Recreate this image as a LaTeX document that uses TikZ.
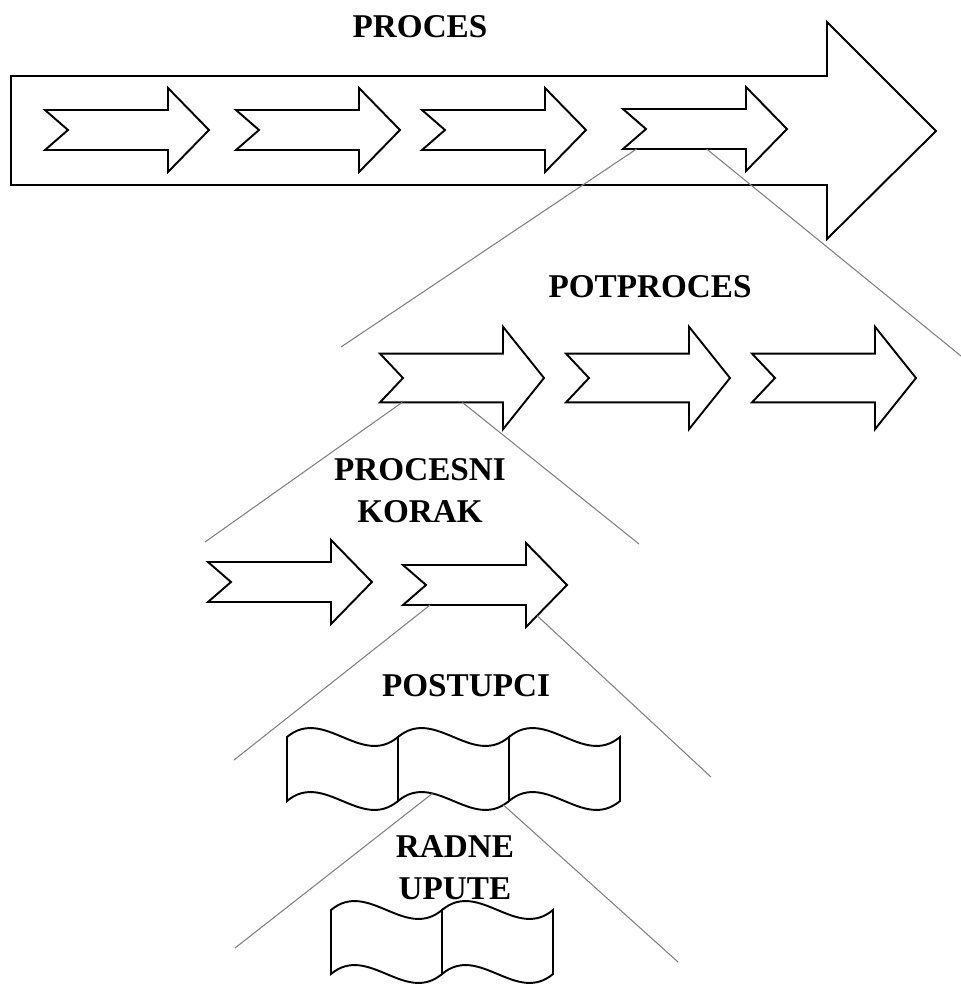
\documentclass[tikz,border=0pt]{standalone}
\usepackage{fontspec}
\setmainfont{Liberation Serif}
\usetikzlibrary{calc,positioning}

\tikzset{
  outline/.style={draw=black, line width=1.1pt, fill=white, line join=miter},
  zoomline/.style={draw=black!50, line width=0.6pt},
  levellabel/.style={font=\fontsize{18.9}{23.8}\selectfont\bfseries, inner sep=0pt, align=center},
  stepArrow/.pic={
    \path[outline] (0,-20) -- (123,-20) -- (123,-42) -- (164,0) -- (123,42)
      -- (123,20) -- (0,20) -- (23,0) -- cycle;
    \coordinate (-bl) at (0,20);
    \coordinate (-br) at (123,20);
    \coordinate (-hb) at (123,42);
    \coordinate (-tip) at (164,0);
  },
  tapePanel/.pic={
    \path[outline] (0,0) .. controls (37,-31) and (74,31) .. (111,0)
      -- (111,64) .. controls (74,95) and (37,33) .. (0,64) -- cycle;
    \path (0,64) .. controls (37,33) and (74,95) .. (111,64)
      coordinate[pos=0.31] (-ml) coordinate[pos=0.95] (-mr);
  }
}

\begin{document}
\begin{tikzpicture}[x=0.02cm, y=-0.02cm]
\useasboundingbox[fill=white] (0,0) rectangle (961,985);

% proces
\node[levellabel] (proces) at (420,27) {PROCES};
\path[outline] (11,76) -- (827,76) -- (827,22) -- (936,131) -- (827,239)
  -- (827,185) -- (11,185) -- cycle;
\pic (a1) at (45,130) {stepArrow};
\pic (a2) at (236,130) {stepArrow};
\pic (a3) at (422,130) {stepArrow};
\pic (a4) at (623,129) {stepArrow};

% potproces
\node[levellabel] (potproces) at (650,287) {POTPROCES};
\pic[yscale=1.22] (b1) at (380,378) {stepArrow};
\pic[yscale=1.22] (b2) at (566,378) {stepArrow};
\pic[yscale=1.22] (b3) at (752,378) {stepArrow};

% procesni korak
\node[levellabel] (korak) at (420,491) {PROCESNI\\KORAK};
\pic (c1) at (208,582) {stepArrow};
\pic (c2) at (403,585) {stepArrow};

% postupci
\node[levellabel] (postupci) at (466,686) {POSTUPCI};
\pic (d1) at (287,737) {tapePanel};
\pic (d2) at (398,737) {tapePanel};
\pic (d3) at (509,737) {tapePanel};

% radne upute
\node[levellabel] (upute) at (455,868) {RADNE\\UPUTE};
\pic (u1) at (331,910) {tapePanel};
\pic (u2) at (442,910) {tapePanel};

% zoom lines
\coordinate (e1l) at (341,347);
\coordinate (e1r) at (961,356);
\coordinate (e2l) at (205,542);
\coordinate (e2r) at (639,544);
\coordinate (e3l) at (234,760);
\coordinate (e3r) at (711,777);
\coordinate (e4l) at (235,948);
\coordinate (e4r) at (678,962);

\draw[zoomline] ($(a4-bl)!0.11!(a4-br)$) -- (e1l);
\draw[zoomline] ($(a4-bl)!0.68!(a4-br)$) -- (e1r);
\draw[zoomline] ($(b1-bl)!0.18!(b1-br)$) -- (e2l);
\draw[zoomline] ($(b1-bl)!0.67!(b1-br)$) -- (e2r);
\draw[zoomline] ($(c2-bl)!0.22!(c2-br)$) -- (e3l);
\draw[zoomline] ($(c2-hb)!0.27!(c2-tip)$) -- (e3r);
\draw[zoomline] (d2-ml) -- (e4l);
\draw[zoomline] (d2-mr) -- (e4r);
\end{tikzpicture}
\end{document}
